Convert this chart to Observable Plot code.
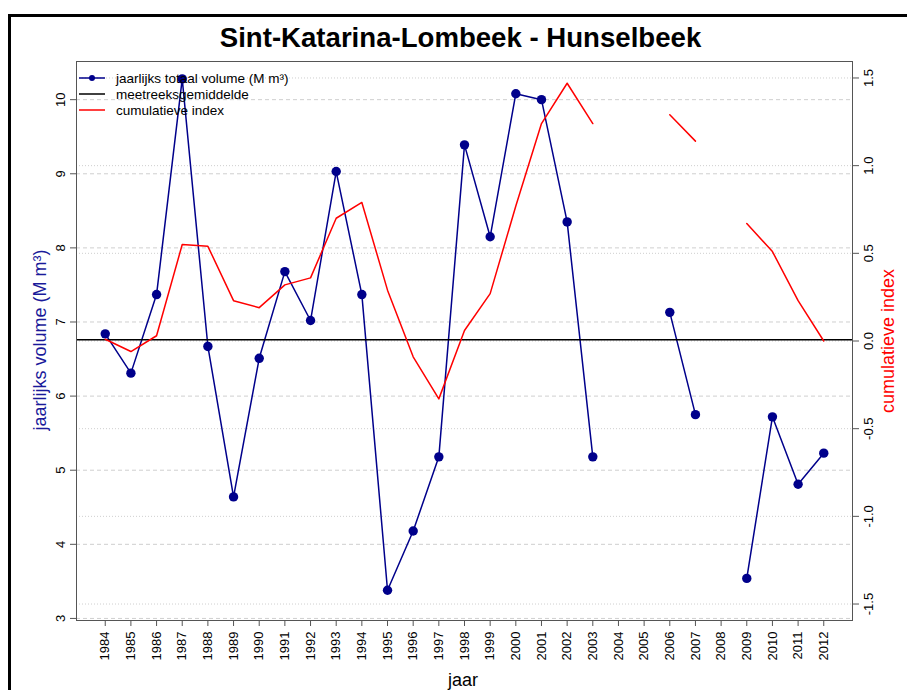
<!DOCTYPE html>
<html><head><meta charset="utf-8">
<script src="https://cdn.jsdelivr.net/npm/d3@7"></script>
<script src="https://cdn.jsdelivr.net/npm/@observablehq/plot@0.6"></script>
<style>
body{margin:0;background:#fff;font-family:"Liberation Sans",Arial,Helvetica,sans-serif;}
#wrap{position:relative;width:907px;height:690px;overflow:hidden;background:#fff;}
#frame{position:absolute;left:8px;top:14px;width:1000px;height:1000px;border:3px solid #000;box-sizing:border-box;}
#chart{position:absolute;left:0;top:0;}
#title{position:absolute;left:0;width:921px;top:22px;text-align:center;font-weight:bold;font-size:27.6px;line-height:32px;color:#000;}
.rot{position:absolute;white-space:nowrap;transform:translate(-50%,-50%) rotate(-90deg);font-size:18px;line-height:20px;}
#xlab{position:absolute;left:463px;top:680px;transform:translate(-50%,-50%);font-size:18px;line-height:20px;}
#legend{position:absolute;left:79px;top:70px;font-size:13.5px;}
#legend .row{display:flex;align-items:center;height:16px;}
#legend svg{margin-right:11px;}
</style>
</head><body>
<div id="wrap">
  <div id="frame"></div>
  <div id="chart"></div>
  <div id="title">Sint-Katarina-Lombeek - Hunselbeek</div>
  <div class="rot" id="ylab" style="left:40px;top:340px;color:#1a1a9a;">jaarlijks volume (M m³)</div>
  <div class="rot" id="y2lab" style="left:888px;top:341px;color:#ff0000;">cumulatieve index</div>
  <div id="xlab">jaar</div>
  <div id="legend"></div>
</div>
<script>
const years = [1984,1985,1986,1987,1988,1989,1990,1991,1992,1993,1994,1995,1996,1997,1998,1999,2000,2001,2002,2003,2004,2005,2006,2007,2008,2009,2010,2011,2012];
const volume = [6.84,6.31,7.37,10.28,6.67,4.64,6.51,7.68,7.02,9.03,7.37,3.38,4.18,5.18,9.39,8.15,10.08,10.00,8.35,5.18,null,null,7.13,5.75,null,3.54,5.72,4.81,5.23];
const cumIndex = [0.01,-0.06,0.03,0.55,0.54,0.23,0.19,0.32,0.36,0.70,0.79,0.29,-0.09,-0.33,0.06,0.27,0.77,1.24,1.47,1.24,null,null,1.29,1.14,null,0.67,0.51,0.23,0.00];
const meanVolume = 6.76;
const leftTicks = [3,4,5,6,7,8,9,10];
const rightTicks = [-1.5,-1.0,-0.5,0.0,0.5,1.0,1.5];
const seriesNames = ["jaarlijks totaal volume (M m³)","meetreeksgemiddelde","cumulatieve index"];
const seriesColors = ["#00008B","#000000","#ff0000"];

const leftDomain = [2.972, 10.515];
const rightDomain = [-1.594, 1.594];
const toY = v => (v == null ? NaN : leftDomain[0] + (v - rightDomain[0]) / (rightDomain[1] - rightDomain[0]) * (leftDomain[1] - leftDomain[0]));
const fromY = y => rightDomain[0] + (y - leftDomain[0]) / (leftDomain[1] - leftDomain[0]) * (rightDomain[1] - rightDomain[0]);

const rows = years.map((y, i) => ({year: y, volume: volume[i] == null ? NaN : volume[i], idx: cumIndex[i] == null ? NaN : cumIndex[i]}));

const chart = Plot.plot({
  width: 907, height: 690,
  marginLeft: 76, marginRight: 55, marginTop: 61, marginBottom: 70,
  style: {fontFamily: '"Liberation Sans", Arial, sans-serif', fontSize: "13px", background: "transparent", overflow: "visible"},
  x: {domain: [1984 - 1.12, 2012 + 1.12]},
  y: {domain: leftDomain},
  marks: [
    Plot.ruleY(leftTicks, {stroke: "#cfcfcf", strokeDasharray: "4,3"}),
    Plot.ruleY(rightTicks.map(toY), {stroke: "#cfcfcf", strokeDasharray: "1,2"}),
    Plot.line(rows, {x: "year", y: "volume", stroke: seriesColors[0], strokeWidth: 1.5}),
    Plot.dot(rows, {x: "year", y: "volume", r: 4.7, fill: seriesColors[0], stroke: "none"}),
    Plot.ruleY([meanVolume], {stroke: seriesColors[1], strokeWidth: 1.5}),
    Plot.line(rows, {x: "year", y: d => toY(d.idx), stroke: seriesColors[2], strokeWidth: 1.5}),
    Plot.frame({stroke: "#555"}),
    Plot.axisX({ticks: years, tickFormat: d => String(d), tickRotate: -90, textAnchor: "end", tickSize: 6, tickPadding: 5, label: null, stroke: "#555", fill: "#000"}),
    Plot.axisY({anchor: "left", ticks: leftTicks, tickFormat: d => String(d), tickRotate: -90, tickSize: 6, tickPadding: 6, label: null, stroke: "#555", fill: "#000"}),
    Plot.axisY({anchor: "right", ticks: rightTicks.map(toY), tickFormat: y => { const v = Math.round(fromY(y) * 10) / 10; return (v === 0 ? 0 : v).toFixed(1); }, tickRotate: -90, lineAnchor: "top", tickSize: 6, tickPadding: 5, label: null, stroke: "#555", fill: "#000"})
  ]
});
document.getElementById("chart").appendChild(chart);

const legend = document.getElementById("legend");
seriesNames.forEach((name, i) => {
  const row = document.createElement("div");
  row.className = "row";
  const dot = i === 0 ? `<circle cx="13" cy="5" r="3" fill="${seriesColors[i]}"/>` : "";
  row.innerHTML = `<svg width="26" height="10"><line x1="0" y1="5" x2="26" y2="5" stroke="${seriesColors[i]}" stroke-width="1.5"/>${dot}</svg><span>${name}</span>`;
  legend.appendChild(row);
});
</script>
</body></html>
